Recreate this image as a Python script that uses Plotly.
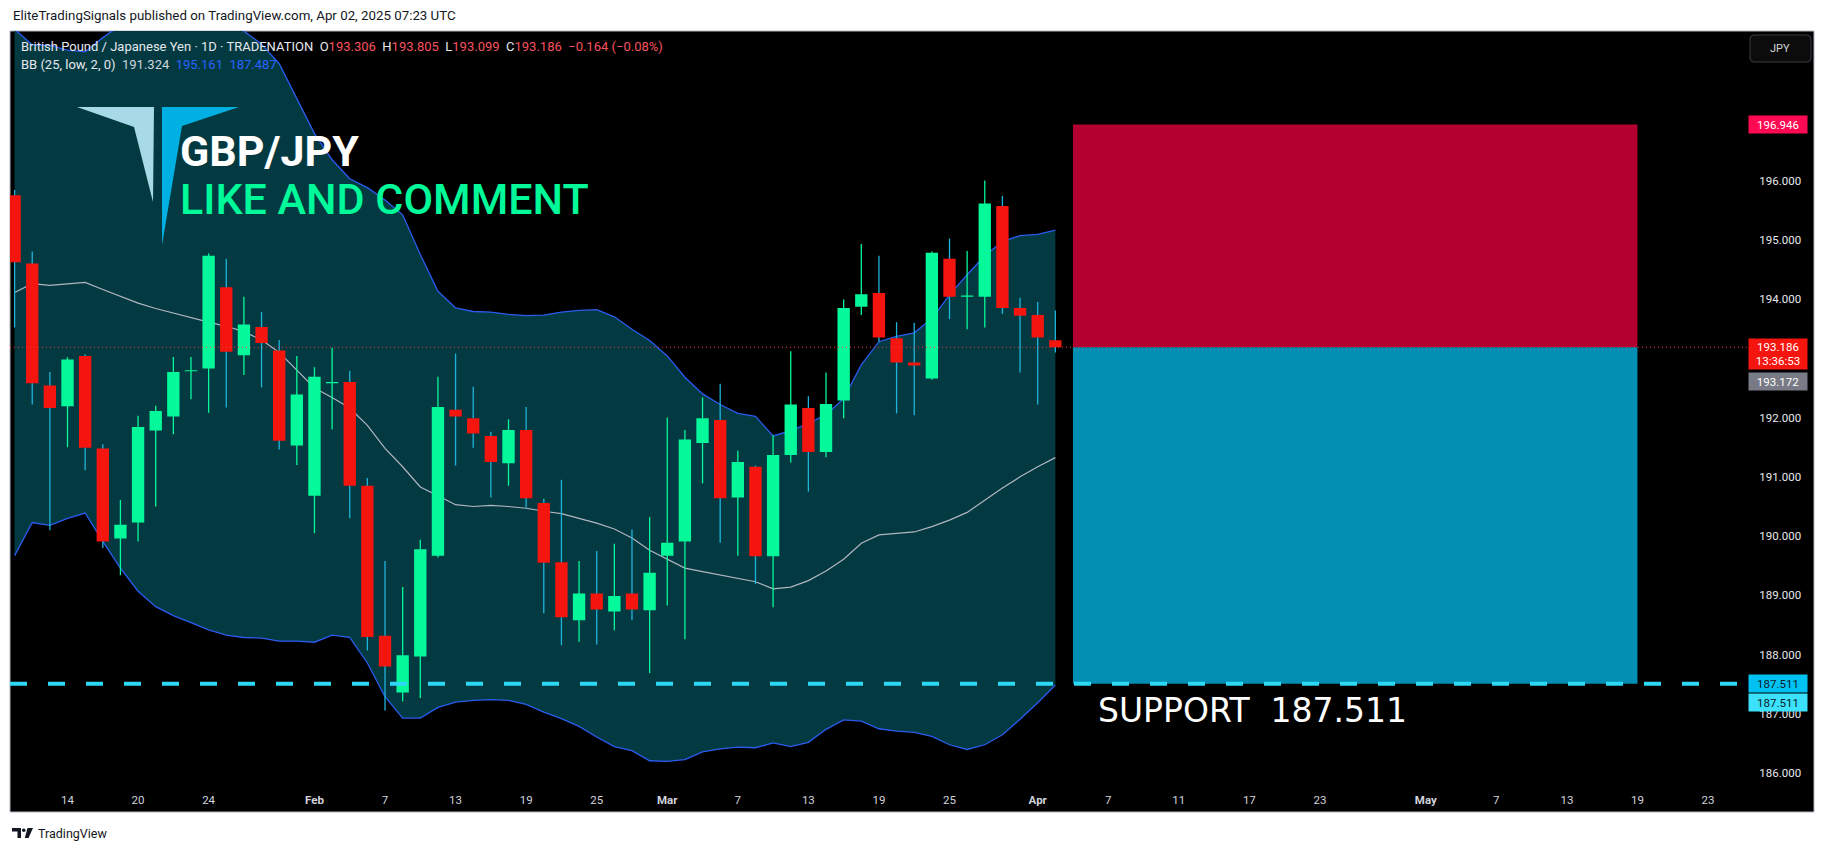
import pandas as pd
import plotly.graph_objects as go

# ---------------- data ----------------
first_bar_date = "2025-01-09"
last_axis_date = "2025-05-23"

opens = [195.75, 194.60, 192.54, 192.19, 193.04, 191.48, 189.96, 190.23, 191.78, 192.02,
         192.78, 192.83, 194.20, 193.05, 193.53, 193.13, 191.53, 190.68, 192.58, 192.60,
         190.85, 188.32, 187.36, 187.97, 189.67, 192.13, 191.99, 191.69, 191.23, 191.79,
         190.56, 189.56, 188.58, 189.03, 188.73, 189.03, 188.75, 189.67, 189.91, 191.57,
         191.96, 190.65, 191.17, 189.66, 191.37, 192.16, 191.42, 192.29, 193.87, 194.10,
         193.34, 192.93, 192.66, 194.68, 194.04, 194.04, 195.57, 193.85, 193.73, 193.306]
highs = [195.84, 194.80, 192.77, 193.02, 193.07, 191.55, 190.61, 192.03, 192.20, 193.02,
         193.02, 194.77, 194.68, 194.04, 193.78, 193.31, 193.04, 192.85, 193.18, 192.79,
         190.98, 189.58, 189.14, 189.94, 192.69, 193.08, 192.52, 191.76, 191.97, 192.18,
         190.63, 190.95, 189.58, 189.75, 189.87, 190.11, 190.32, 192.00, 191.79, 192.34,
         192.57, 191.44, 191.19, 191.70, 193.12, 192.36, 192.76, 193.99, 194.93, 194.73,
         193.61, 193.60, 194.80, 195.02, 194.81, 196.00, 195.74, 194.02, 193.95, 193.805]
lows = [193.52, 192.22, 190.10, 191.50, 191.11, 189.80, 189.34, 189.91, 190.50, 191.72,
        192.31, 192.08, 192.17, 192.72, 192.51, 191.46, 191.20, 190.05, 191.80, 190.30,
        188.07, 187.06, 187.21, 187.27, 189.64, 191.19, 191.49, 190.65, 190.85, 190.48,
        188.70, 188.16, 188.22, 188.17, 188.41, 188.58, 187.69, 188.83, 188.26, 190.89,
        189.89, 189.67, 189.19, 188.80, 191.24, 190.75, 191.33, 191.99, 193.73, 193.28,
        192.07, 192.04, 192.64, 193.66, 193.49, 193.52, 193.75, 192.76, 192.22, 193.099]
closes = [194.62, 192.58, 192.16, 192.98, 191.49, 189.91, 190.19, 191.84, 192.11, 192.77,
          192.80, 194.73, 193.11, 193.57, 193.26, 191.61, 192.39, 192.69, 192.60, 190.85,
          188.30, 187.80, 187.99, 189.78, 192.18, 192.02, 191.73, 191.25, 191.79, 190.64,
          189.55, 188.63, 189.03, 188.76, 188.99, 188.76, 189.38, 189.89, 191.63, 191.99,
          190.64, 191.25, 189.66, 191.37, 192.22, 191.42, 192.23, 193.85, 194.08, 193.35,
          192.93, 192.88, 194.78, 194.04, 194.06, 195.61, 193.85, 193.72, 193.35, 193.186]

bb_upper = [198.55, 198.29, 198.28, 198.20, 198.17, 198.41, 198.62, 198.79, 198.87, 198.86,
            198.84, 198.80, 198.72, 198.52, 198.30, 197.97, 197.37, 196.79, 196.35, 196.03,
            195.88, 195.67, 195.42, 194.75, 194.13, 193.85, 193.79, 193.78, 193.74, 193.72,
            193.73, 193.78, 193.81, 193.82, 193.70, 193.49, 193.30, 193.04, 192.68, 192.40,
            192.22, 192.07, 192.02, 191.69, 191.78, 191.90, 192.05, 192.32, 192.89, 193.28,
            193.37, 193.43, 193.67, 194.07, 194.41, 194.73, 194.97, 195.07, 195.09, 195.161]
bb_basis = [194.11, 194.26, 194.23, 194.25, 194.28, 194.16, 194.04, 193.93, 193.84, 193.76,
            193.69, 193.61, 193.54, 193.45, 193.31, 193.10, 192.80, 192.50, 192.34, 192.16,
            191.87, 191.48, 191.17, 190.83, 190.68, 190.53, 190.50, 190.52, 190.50, 190.47,
            190.42, 190.38, 190.30, 190.22, 190.12, 189.97, 189.76, 189.61, 189.46, 189.40,
            189.34, 189.28, 189.23, 189.11, 189.14, 189.25, 189.41, 189.61, 189.88, 190.02,
            190.05, 190.07, 190.16, 190.27, 190.40, 190.61, 190.81, 191.00, 191.17, 191.324]
bb_lower = [189.67, 190.23, 190.18, 190.30, 190.39, 189.91, 189.46, 189.07, 188.81, 188.66,
            188.54, 188.42, 188.33, 188.29, 188.28, 188.23, 188.23, 188.21, 188.33, 188.29,
            187.86, 187.29, 186.93, 186.93, 187.11, 187.20, 187.23, 187.24, 187.23, 187.16,
            187.03, 186.92, 186.79, 186.61, 186.45, 186.38, 186.21, 186.20, 186.23, 186.36,
            186.41, 186.44, 186.43, 186.51, 186.45, 186.52, 186.74, 186.90, 186.88, 186.75,
            186.71, 186.69, 186.62, 186.48, 186.40, 186.48, 186.65, 186.91, 187.19, 187.487]

tick_dates = ["2025-01-14", "2025-01-20", "2025-01-24", "2025-02-03", "2025-02-07",
              "2025-02-13", "2025-02-19", "2025-02-25", "2025-03-03", "2025-03-07",
              "2025-03-13", "2025-03-19", "2025-03-25", "2025-04-01", "2025-04-07",
              "2025-04-11", "2025-04-17", "2025-04-23", "2025-05-01", "2025-05-07",
              "2025-05-13", "2025-05-19", "2025-05-23"]
price_ticks = [186, 187, 188, 189, 190, 191, 192, 193, 194, 195, 196]

entry_price = 193.186
stop_price = 196.946
target_price = 187.511
prev_close_price = 193.172
day_change = "−0.164 (−0.08%)"
countdown = "13:36:53"
position_start = "2025-04-03"
position_end = "2025-05-19"

# ---------------- calendar (bar index axis) ----------------
cal = pd.bdate_range(first_bar_date, last_axis_date)
pos = {d.strftime("%Y-%m-%d"): i for i, d in enumerate(cal)}
n = len(opens)
idx = list(range(n))

tickvals, ticktext = [], []
for ds in tick_dates:
    i = pos[ds]
    d = cal[i]
    tickvals.append(i)
    if i > 0 and cal[i - 1].month != d.month:
        ticktext.append("<b>" + d.strftime("%b") + "</b>")
    else:
        ticktext.append(str(d.day))

# ---------------- geometry (page pixels; the page body adds an 8px offset) ----------------
OFF = 8
W, Hh = 1826 - 2 * OFF, 852 - 2 * OFF
L, R, T, B = 10, 1747, 31, 784          # plot area in page pixels
PW, PH = R - L, B - T
YMIN, YMAX = 185.818, 198.522
XMIN, XMAX = -0.26, 98.21


def pxx(px):
    return (px - L) / PW


def pyy(py):
    return (B - py) / PH


GREEN = "#05f99a"
RED = "#f5150f"
CYANWICK = "#1fb4dc"
BANDFILL = "#033a42"
BANDLINE = "#2a5cf0"

fig = go.Figure()

# Bollinger fill
fig.add_trace(go.Scatter(x=idx, y=bb_upper, mode="lines", line=dict(width=0, color=BANDFILL),
                         hoverinfo="skip", showlegend=False))
fig.add_trace(go.Scatter(x=idx, y=bb_lower, mode="lines", line=dict(width=0, color=BANDFILL),
                         fill="tonexty", fillcolor=BANDFILL, hoverinfo="skip", showlegend=False))
# band lines
fig.add_trace(go.Scatter(x=idx, y=bb_basis, mode="lines", line=dict(width=1.2, color="#b2b5be"),
                         hoverinfo="skip", showlegend=False))
fig.add_trace(go.Scatter(x=idx, y=bb_upper, mode="lines", line=dict(width=1.3, color=BANDLINE),
                         hoverinfo="skip", showlegend=False))
fig.add_trace(go.Scatter(x=idx, y=bb_lower, mode="lines", line=dict(width=1.3, color=BANDLINE),
                         hoverinfo="skip", showlegend=False))

# wicks and bodies (scatter so that they sit above the band fill)
up_x, up_y, dn_x, dn_y = [], [], [], []
ub_x, ub_y, db_x, db_y = [], [], [], []
HW = 0.35
for i in idx:
    o, c = opens[i], closes[i]
    lo_b, hi_b = min(o, c), max(o, c)
    if hi_b - lo_b < 0.02:
        hi_b = lo_b + 0.02
    if c >= o:
        up_x += [i, i, None]
        up_y += [lows[i], highs[i], None]
        ub_x += [i - HW, i + HW, i + HW, i - HW, i - HW, None]
        ub_y += [lo_b, lo_b, hi_b, hi_b, lo_b, None]
    else:
        dn_x += [i, i, None]
        dn_y += [lows[i], highs[i], None]
        db_x += [i - HW, i + HW, i + HW, i - HW, i - HW, None]
        db_y += [lo_b, lo_b, hi_b, hi_b, lo_b, None]
fig.add_trace(go.Scatter(x=up_x, y=up_y, mode="lines", line=dict(width=1.3, color=GREEN),
                         hoverinfo="skip", showlegend=False))
fig.add_trace(go.Scatter(x=dn_x, y=dn_y, mode="lines", line=dict(width=1.3, color=CYANWICK),
                         hoverinfo="skip", showlegend=False))
fig.add_trace(go.Scatter(x=ub_x, y=ub_y, mode="lines", fill="toself", fillcolor=GREEN,
                         line=dict(width=0, color=GREEN), hoverinfo="skip", showlegend=False))
fig.add_trace(go.Scatter(x=db_x, y=db_y, mode="lines", fill="toself", fillcolor=RED,
                         line=dict(width=0, color=RED), hoverinfo="skip", showlegend=False))

shapes = []
# chart frame
shapes.append(dict(type="rect", xref="paper", yref="paper", x0=pxx(10), x1=pxx(1814),
                   y0=pyy(812), y1=pyy(31), fillcolor="#000000",
                   line=dict(color="#b2b5be", width=1), layer="below"))
# position tool boxes
x0b, x1b = pos[position_start], pos[position_end]
shapes.append(dict(type="rect", xref="x", yref="y", x0=x0b, x1=x1b, y0=entry_price, y1=stop_price,
                   fillcolor="#b20030", line=dict(width=0), layer="above"))
shapes.append(dict(type="rect", xref="x", yref="y", x0=x0b, x1=x1b, y0=target_price, y1=entry_price,
                   fillcolor="#008fb3", line=dict(width=0), layer="above"))
# support dashed line
shapes.append(dict(type="line", xref="paper", yref="y", x0=0, x1=1, y0=target_price, y1=target_price,
                   line=dict(color="#2cd8f3", width=4, dash="17px,21px"), layer="above"))
# current price dotted line
shapes.append(dict(type="line", xref="paper", yref="y", x0=0, x1=1, y0=entry_price, y1=entry_price,
                   line=dict(color="#f23645", width=1, dash="1px,3px"), layer="above"))


def poly(points):
    return "M " + " L ".join(f"{pxx(a):.5f},{pyy(b):.5f}" for a, b in points) + " Z"


# logo
shapes.append(dict(type="path", xref="paper", yref="paper",
                   path=poly([(77, 107), (154, 107), (153, 202), (134, 127)]),
                   fillcolor="#a7dae6", line=dict(width=0), layer="above"))
shapes.append(dict(type="path", xref="paper", yref="paper",
                   path=poly([(162, 107), (239, 107), (182, 126), (162, 245)]),
                   fillcolor="#00b0e2", line=dict(width=0), layer="above"))

# JPY button (rounded)
bx0, by0, bx1, by1, rr = 1750, 35, 1811, 62, 4
jpy_path = (f"M {pxx(bx0+rr)},{pyy(by0)} L {pxx(bx1-rr)},{pyy(by0)} Q {pxx(bx1)},{pyy(by0)} {pxx(bx1)},{pyy(by0+rr)} "
            f"L {pxx(bx1)},{pyy(by1-rr)} Q {pxx(bx1)},{pyy(by1)} {pxx(bx1-rr)},{pyy(by1)} "
            f"L {pxx(bx0+rr)},{pyy(by1)} Q {pxx(bx0)},{pyy(by1)} {pxx(bx0)},{pyy(by1-rr)} "
            f"L {pxx(bx0)},{pyy(by0+rr)} Q {pxx(bx0)},{pyy(by0)} {pxx(bx0+rr)},{pyy(by0)} Z")
shapes.append(dict(type="path", xref="paper", yref="paper", path=jpy_path, fillcolor="#0c0c0c",
                   line=dict(color="#3a3d45", width=1), layer="above"))

# footer TradingView logo
shapes.append(dict(type="path", xref="paper", yref="paper",
                   path=poly([(12, 828), (21, 828), (21, 838), (17.5, 838), (17.5, 831.5), (12, 831.5)]),
                   fillcolor="#131722", line=dict(width=0), layer="above"))
shapes.append(dict(type="circle", xref="paper", yref="paper", x0=pxx(22), x1=pxx(25.5),
                   y0=pyy(832), y1=pyy(828.5), fillcolor="#131722", line=dict(width=0), layer="above"))
shapes.append(dict(type="path", xref="paper", yref="paper",
                   path=poly([(27.5, 828), (33, 828), (28.5, 838), (24.8, 838)]),
                   fillcolor="#131722", line=dict(width=0), layer="above"))

ann = []
FONT = "Roboto, 'Liberation Sans', sans-serif"
ann.append(dict(xref="paper", yref="paper", x=pxx(11), y=pyy(15), xanchor="left", yanchor="middle",
                text="EliteTradingSignals published on TradingView.com, Apr 02, 2025 07:23 UTC",
                showarrow=False, font=dict(family=FONT, size=13.3, color="#131722")))
ann.append(dict(xref="paper", yref="paper", x=pxx(36), y=pyy(833), xanchor="left", yanchor="middle",
                text="TradingView", showarrow=False, font=dict(family=FONT, size=12.5, color="#131722")))

rc = "#f7525f"
sp = "\u00a0\u00a0"
o, h, l_, c = opens[-1], highs[-1], lows[-1], closes[-1]
line1 = ("British Pound / Japanese Yen · 1D · TRADENATION" + sp +
         f"O<span style='color:{rc}'>{o:.3f}</span>" + sp +
         f"H<span style='color:{rc}'>{h:.3f}</span>" + sp +
         f"L<span style='color:{rc}'>{l_:.3f}</span>" + sp +
         f"C<span style='color:{rc}'>{c:.3f}</span>" + sp +
         f"<span style='color:{rc}'>{day_change}</span>")
ann.append(dict(xref="paper", yref="paper", x=pxx(19), y=pyy(46.5), xanchor="left", yanchor="middle",
                text=line1, showarrow=False, font=dict(family=FONT, size=13, color="#e6e8ee")))
line2 = ("BB (25, low, 2, 0)" + sp + f"<span style='color:#d1d4dc'>{bb_basis[-1]:.3f}</span>" + sp +
         f"<span style='color:#2962ff'>{bb_upper[-1]:.3f}</span>" + sp +
         f"<span style='color:#2962ff'>{bb_lower[-1]:.3f}</span>")
ann.append(dict(xref="paper", yref="paper", x=pxx(19), y=pyy(65), xanchor="left", yanchor="middle",
                text=line2, showarrow=False, font=dict(family=FONT, size=13, color="#e6e8ee")))

ann.append(dict(xref="paper", yref="paper", x=pxx(178), y=pyy(151), xanchor="left", yanchor="middle",
                text="<b>GBP/JPY</b>", showarrow=False,
                font=dict(family="Roboto, sans-serif", size=43, color="#ffffff")))
ann.append(dict(xref="paper", yref="paper", x=pxx(178), y=pyy(199), xanchor="left", yanchor="middle",
                text="LIKE AND COMMENT", showarrow=False,
                font=dict(family="Roboto, sans-serif", size=43, color="#00fa9a", weight=500)))

ann.append(dict(xref="x", yref="y", x=61.3, y=187.05, xanchor="left", yanchor="middle",
                text=f"SUPPORT\u00a0\u00a0{target_price:.3f}", showarrow=False,
                font=dict(family="DejaVu Sans, sans-serif", size=33, color="#ffffff")))

# axis badges
bx = pxx(1748)


def badge(y, text, bg, fg, yanchor="middle", yshift=0, height=15):
    ann.append(dict(xref="paper", yref="y", x=bx, y=y, xanchor="left", yanchor=yanchor,
                    yshift=yshift, text=text, showarrow=False, bgcolor=bg, borderpad=1,
                    width=56, height=height, align="center",
                    font=dict(family=FONT, size=11.5, color=fg)))


badge(stop_price, f"{stop_price:.3f}", "#ff0a52", "#ffffff")
badge(entry_price, f"{entry_price:.3f}<br>{countdown}", "#f5150f", "#ffffff", yanchor="top", yshift=9, height=28)
badge(prev_close_price, f"{prev_close_price:.3f}", "#787b86", "#ffffff", yanchor="top", yshift=-24)
badge(target_price, f"{target_price:.3f}", "#00c2f2", "#0b1a2a")
badge(target_price, f"{target_price:.3f}", "#3ce2fb", "#0b1a2a", yanchor="top", yshift=-9.5)

ann.append(dict(xref="paper", yref="paper", x=pxx(1780.5), y=pyy(48.5), xanchor="center", yanchor="middle",
                text="JPY", showarrow=False, font=dict(family=FONT, size=11, color="#d1d4dc")))

fig.update_layout(
    width=W, height=Hh,
    margin=dict(l=L - OFF, r=(W + OFF) - R, t=T - OFF, b=(Hh + OFF) - B),
    paper_bgcolor="#ffffff", plot_bgcolor="#000000",
    showlegend=False,
    shapes=shapes, annotations=ann,
    xaxis=dict(range=[XMIN, XMAX], showgrid=False, zeroline=False, showline=False,
               tickmode="array", tickvals=tickvals, ticktext=ticktext,
               ticks="outside", ticklen=5, tickcolor="rgba(0,0,0,0)",
               tickfont=dict(family=FONT, size=11.5, color="#d1d4dc"), fixedrange=True),
    yaxis=dict(range=[YMIN, YMAX], side="right", showgrid=False, zeroline=False, showline=False,
               tickmode="array", tickvals=price_ticks, ticktext=[f"{v:.3f}" for v in price_ticks],
               ticks="outside", ticklen=9, tickcolor="rgba(0,0,0,0)",
               tickfont=dict(family=FONT, size=11.5, color="#e6e8ee"), fixedrange=True),
)

fig.write_html("out.html", config={"displayModeBar": False})
